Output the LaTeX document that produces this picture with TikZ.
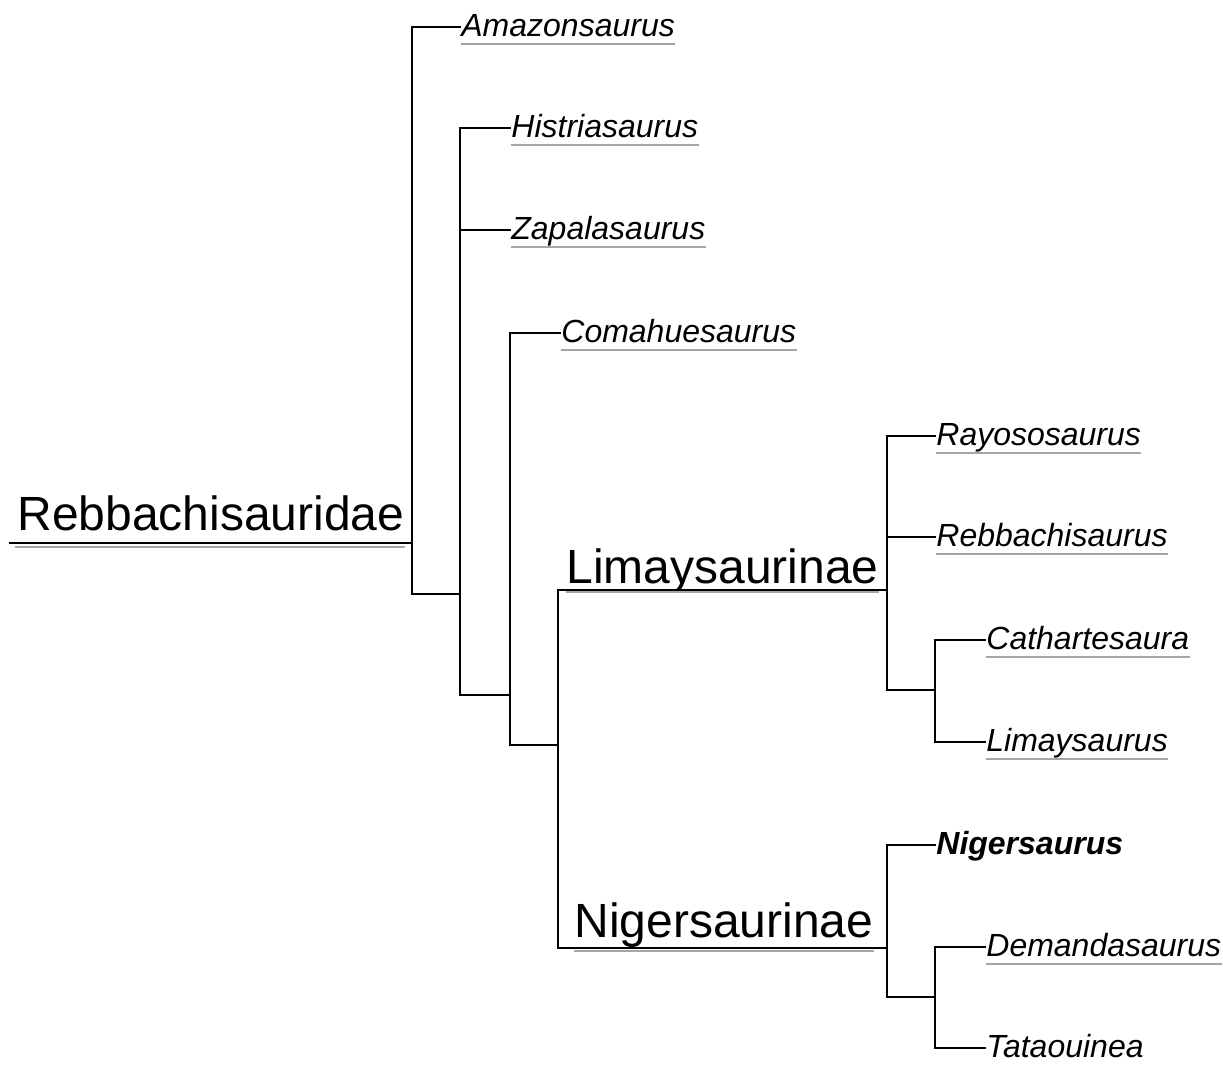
\documentclass[tikz,border=0pt]{standalone}
\usepackage{fontspec}
\setmainfont{Liberation Sans}
\definecolor{ulgray}{RGB}{165,165,165}
\begin{document}
\begin{tikzpicture}[x=0.5pt,y=-0.5pt,
  branch/.style={draw=black,line width=1.05pt,line cap=rect},
  ul/.style={draw=ulgray,line width=1pt},
  sp/.style={anchor=base west,inner sep=0pt,font=\fontsize{16}{19}\selectfont\itshape},
  spb/.style={anchor=base west,inner sep=0pt,font=\fontsize{16}{19}\selectfont\itshape\bfseries},
  clade/.style={anchor=base west,inner sep=0pt,font=\fontsize{24}{28}\selectfont}]
\useasboundingbox (0,0) rectangle (1223,1066);
% coordinates of branch points
\coordinate (r0) at (10,543);
\coordinate (r1) at (412,543);
\coordinate (a0) at (412,27);  \coordinate (tA) at (460,27);
\coordinate (a1) at (412,594); \coordinate (b0) at (460,594);
\coordinate (bH) at (460,128); \coordinate (tH) at (510,128);
\coordinate (bZ) at (460,230); \coordinate (tZ) at (510,230);
\coordinate (b1) at (460,695); \coordinate (c0) at (510,695);
\coordinate (cC) at (510,333); \coordinate (tC) at (560,333);
\coordinate (c1) at (510,745); \coordinate (d0) at (558,745);
\coordinate (dL) at (558,590); \coordinate (eL) at (887,590);
\coordinate (dN) at (558,948); \coordinate (eN) at (887,948);
\coordinate (eR) at (887,436); \coordinate (tR) at (935,436);
\coordinate (eB) at (887,537); \coordinate (tB) at (935,537);
\coordinate (e1) at (887,690); \coordinate (f0) at (935,690);
\coordinate (fC) at (935,640); \coordinate (tCa) at (985,640);
\coordinate (fL) at (935,742); \coordinate (tL) at (985,742);
\coordinate (gN) at (887,845); \coordinate (tN) at (935,845);
\coordinate (g1) at (887,997); \coordinate (h0) at (935,997);
\coordinate (hD) at (935,947); \coordinate (tD) at (985,947);
\coordinate (hT) at (935,1048); \coordinate (tT) at (985,1048);

% labels
\node[clade] (rebbachisauridae) at (17,530) {Rebbachisauridae};
\node[clade] (limaysaurinae) at (566,583) {Limaysaurinae};
\node[clade] (nigersaurinae) at (574,937) {Nigersaurinae};
\node[sp] (amazonsaurus) at ([xshift=0.5pt,yshift=-4.8pt]tA) {Amazonsaurus};
\node[sp] (histriasaurus) at ([xshift=0.5pt,yshift=-4.8pt]tH) {Histriasaurus};
\node[sp] (zapalasaurus) at ([xshift=0.5pt,yshift=-4.8pt]tZ) {Zapalasaurus};
\node[sp] (comahuesaurus) at ([xshift=0.5pt,yshift=-4.8pt]tC) {Comahuesaurus};
\node[sp] (rayososaurus) at ([xshift=0.5pt,yshift=-4.8pt]tR) {Rayososaurus};
\node[sp] (rebbachisaurus) at ([xshift=0.5pt,yshift=-4.8pt]tB) {Rebbachisaurus};
\node[sp] (cathartesaura) at ([xshift=0.5pt,yshift=-4.8pt]tCa) {Cathartesaura};
\node[sp] (limaysaurus) at ([xshift=0.5pt,yshift=-4.8pt]tL) {Limaysaurus};
\node[spb] (nigersaurus) at ([xshift=0.5pt,yshift=-4.8pt]tN) {Nigersaurus};
\node[sp] (demandasaurus) at ([xshift=0.5pt,yshift=-4.8pt]tD) {Demandasaurus};
\node[sp] (tataouinea) at ([xshift=0.5pt,yshift=-4.8pt]tT) {Tataouinea};

% underlines
\draw[ul] ([xshift=-1pt,yshift=-8.5pt]rebbachisauridae.base west) -- ([yshift=-8.5pt]rebbachisauridae.base east);
\draw[ul] ([yshift=-4.5pt]limaysaurinae.base west) -- ([yshift=-4.5pt]limaysaurinae.base east);
\draw[ul] ([yshift=-7pt]nigersaurinae.base west) -- ([yshift=-7pt]nigersaurinae.base east);
\foreach \n in {amazonsaurus,histriasaurus,zapalasaurus,comahuesaurus,rayososaurus,rebbachisaurus,cathartesaura,limaysaurus,demandasaurus}
  \draw[ul] ([yshift=-3.5pt]\n.base west) -- ([yshift=-3.5pt]\n.base east);

% branches
\draw[branch] (r0) -- (r1);
\draw[branch] (tA) -- (a0) -- (a1) -- (b0);
\draw[branch] (tH) -- (bH) -- (b1) -- (c0);
\draw[branch] (bZ) -- (tZ);
\draw[branch] (tC) -- (cC) -- (c1) -- (d0);
\draw[branch] (eL) -- (dL) -- (dN) -- (eN);
\draw[branch] (tR) -- (eR) -- (e1) -- (f0);
\draw[branch] (eB) -- (tB);
\draw[branch] (tCa) -- (fC) -- (fL) -- (tL);
\draw[branch] (tN) -- (gN) -- (g1) -- (h0);
\draw[branch] (tD) -- (hD) -- (hT) -- (tT);
\end{tikzpicture}
\end{document}
